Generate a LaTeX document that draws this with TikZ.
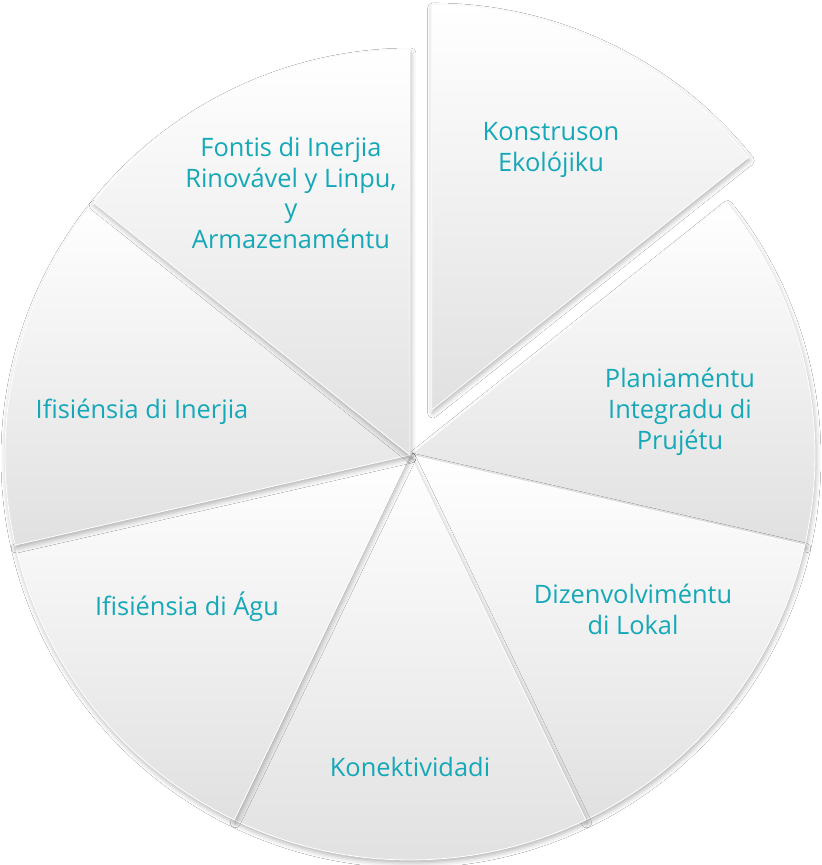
\documentclass[tikz,border=0pt]{standalone}
\usepackage{fontspec}
\setmainfont{Open Sans}
\usetikzlibrary{shadows.blur}
\definecolor{txt}{RGB}{20,168,184}
\begin{document}
\begin{tikzpicture}[x=1pt,y=1pt,
  seg/.style={draw=white, line width=0.8pt, top color=white, middle color=black!3, bottom color=black!12,
    blur shadow={shadow xshift=1pt, shadow yshift=-3pt, shadow blur radius=5pt, shadow opacity=30}},
  lbl/.style={text=txt, align=center, font=\fontsize{25.4}{31}\selectfont, inner sep=0pt}]
\fill[white] (-410,-410) rectangle (412,455);
\useasboundingbox (-410,-410) rectangle (412,455);
\def\R{405}
% 1 exploded
\path[seg] (64.286:50) -- ++(38.571:\R) arc[start angle=38.571,end angle=90,radius=\R] -- cycle;
% 2
\path[seg] (0,0) -- (-12.857:\R) arc[start angle=-12.857,end angle=38.571,radius=\R] -- cycle;
% 3
\path[seg] (0,0) -- (-64.286:\R) arc[start angle=-64.286,end angle=-12.857,radius=\R] -- cycle;
% 4
\path[seg] (0,0) -- (-115.714:\R) arc[start angle=-115.714,end angle=-64.286,radius=\R] -- cycle;
% 5
\path[seg] (0,0) -- (-167.143:\R) arc[start angle=-167.143,end angle=-115.714,radius=\R] -- cycle;
% 6
\path[seg] (0,0) -- (141.429:\R) arc[start angle=141.429,end angle=192.857,radius=\R] -- cycle;
% 7
\path[seg] (0,0) -- (90:\R) arc[start angle=90,end angle=141.429,radius=\R] -- cycle;
% labels
\node[lbl] (l1) at (141,305) {Konstruson\\Ekolójiku};
\node[lbl] (l2) at (270,43) {Planiaméntu\\Integradu di\\Prujétu};
\node[lbl] (l3) at (223,-154) {Dizenvolviméntu\\di Lokal};
\node[lbl] (l4) at (0,-312) {Konektividadi};
\node[lbl] (l5) at (-223,-152) {Ifisiénsia di Águ};
\node[lbl] (l6) at (-268,43) {Ifisiénsia di Inerjia};
\node[lbl, font=\fontsize{25.4}{30.5}\selectfont] (l7) at (-119,262) {Fontis di Inerjia\\Rinovável y Linpu,\\y\\Armazenaméntu};
\end{tikzpicture}
\end{document}
